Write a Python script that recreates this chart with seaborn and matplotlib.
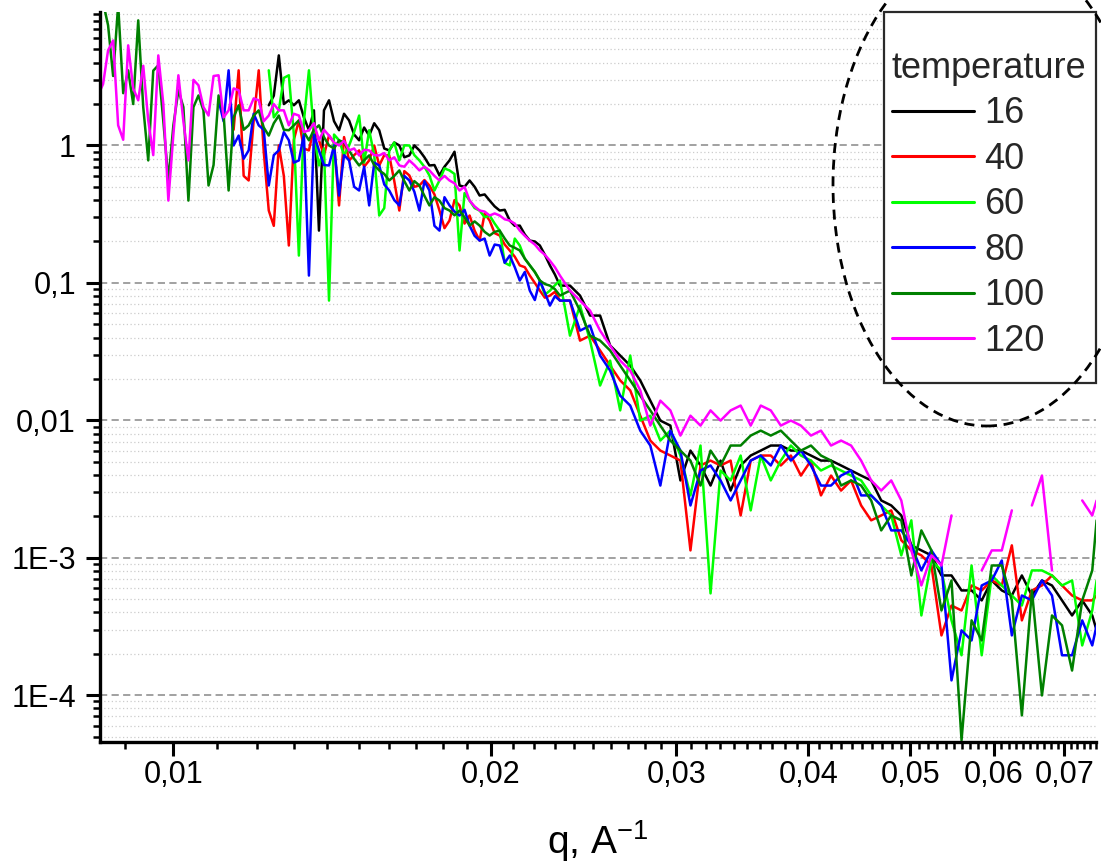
import numpy as np
import pandas as pd
import matplotlib
matplotlib.use("Agg")
import matplotlib.pyplot as plt
import seaborn as sns
from matplotlib.patches import Ellipse, Rectangle
from matplotlib.ticker import (FixedLocator, FixedFormatter, MultipleLocator,
                               LogLocator, NullFormatter)

na = float("nan")

# ---------------- data ----------------
# main q grid
q = [0.008483, 0.008671, 0.008864, 0.009060, 0.009261, 0.009466, 0.009676, 0.009891, 0.010110, 0.010334,
     0.010563, 0.010798, 0.011037, 0.011282, 0.011532, 0.011787, 0.012049, 0.012316, 0.012589, 0.012868,
     0.013153, 0.013445, 0.013743, 0.014048, 0.014359, 0.014678, 0.015003, 0.015336, 0.015676, 0.016023,
     0.016379, 0.016742, 0.017113, 0.017492, 0.017880, 0.018276, 0.018681, 0.019096, 0.019519, 0.019951,
     0.020394, 0.020846, 0.021308, 0.021780, 0.022263, 0.022757, 0.023261, 0.023777, 0.024304, 0.024843,
     0.025393, 0.025956, 0.026532, 0.027120, 0.027721, 0.028336, 0.028964, 0.029606, 0.030262, 0.030933,
     0.031619, 0.032320, 0.033036, 0.033769, 0.034517, 0.035282, 0.036065, 0.036864, 0.037681, 0.038517,
     0.039370, 0.040243, 0.041135, 0.042047, 0.042979, 0.043932, 0.044906, 0.045901, 0.046919, 0.047959,
     0.049022, 0.050109, 0.051220, 0.052355, 0.053516, 0.054702, 0.055915, 0.057154, 0.058434, 0.059729,
     0.061053, 0.062407, 0.063790, 0.065204, 0.066650, 0.068127, 0.069637, 0.071181, 0.072776, 0.074389,
     0.07510]

# extra (denser) q points in the noisy low-q part
q_mid = [0.008577, 0.008767, 0.008962, 0.009160, 0.009363, 0.009570, 0.009783, 0.010000, 0.010221, 0.010448,
         0.010679, 0.010917, 0.011159, 0.011406, 0.011659, 0.011917, 0.012182, 0.012452, 0.012728, 0.013010,
         0.013298, 0.013593, 0.013894, 0.014203, 0.014517, 0.014840, 0.015168, 0.015505, 0.015849, 0.016200,
         0.016559, 0.016926, 0.017302, 0.017685, 0.018077, 0.018477, 0.018887, 0.019306, 0.019734, 0.020171,
         0.020619, 0.021076, 0.021543, 0.022020, 0.022508, 0.023007]

i16 = [na] * 17 + [
    1.96, 4.52, 2.13, 2.13, 1.29, 0.240, 2.13, 1.29, 1.52, 1.09,
    1.18, 1.29, 0.920, 1.00, 0.846, 0.920, 0.715, 0.605, 0.778, 0.511,
    0.556, 0.432, 0.397, 0.336, 0.284, 0.261, 0.203, 0.187, 0.134, 0.0955,
    0.0955, 0.0808, 0.0578, 0.0578, 0.0350, 0.0296, 0.0250, 0.0195, 0.0139, 0.00995,
    0.00915, 0.00365, 0.00602, 0.00469, 0.00335, 0.00509, 0.00308, 0.00469, 0.00554, 0.00602,
    0.00655, 0.00655, 0.00602, 0.00602, 0.00554, 0.00509, 0.00509, 0.00469, 0.00431, 0.00396,
    0.00365, 0.00261, 0.00240, 0.00203, 0.00123, 0.00113, 0.00104, 0.000743, 0.000743, 0.000578,
    0.000578, 0.000489, 0.000683, 0.000578, 0.000531, 0.000743, 0.000531, 0.000683, 0.000628, 0.000489,
    0.000380, 0.000489, 0.000380, 0.000296]
i16_mid = [na] * 17 + [
    2.3, 2.0, 1.96, 1.6, 1.8, 1.8, 1.5, 1.7, 1.2, 1.35,
    1.45, 0.95, 1.05, 0.82, 1.0, 0.82, 0.72, 0.70, 0.90, 0.50,
    0.50, 0.44, 0.36, 0.34, 0.26, 0.225, 0.20, 0.16, 0.115]

i40 = [na] * 14 + [
    3.52, 0.556, 3.52, 0.336, 1.00, 0.187, 1.52, 0.920, 1.09, 1.18,
    0.366, 0.778, 0.920, 0.778, 0.715, 0.846, 0.336, 0.605, 0.511, 0.511,
    0.336, 0.284, 0.366, 0.309, 0.203, 0.284, 0.221, 0.172, 0.134, 0.113,
    0.0878, 0.0808, 0.0743, 0.0743, 0.0380, 0.0413, 0.0322, 0.0250, 0.0195, 0.0165,
    0.0108, 0.00712, 0.00602, 0.00554, 0.00509, 0.00113, 0.00469, 0.00509, 0.00469, 0.00509,
    0.00203, 0.00509, 0.00554, 0.00554, 0.00469, 0.00554, 0.00396, 0.00509, 0.00284, 0.00396,
    0.00308, 0.00365, 0.00240, 0.00187, 0.00203, 0.00221, 0.00134, 0.00113, 0.00104, 0.000878,
    0.000272, 0.000449, 0.000413, 0.000628, 0.000578, 0.000683, 0.000628, 0.00123, 0.000350, 0.000578,
    0.000628, 0.000743, 0.000628, 0.000531, 0.000489, 0.000489, 0.000531]
i40_mid = [na] * 13 + [
    1.3, 0.60, 1.52, 0.9, 0.26, 0.6, 1.1, 0.95, 1.35, 0.85,
    1.05, 1.15, 0.85, 0.70, 1.0, 0.85, 0.55, 0.65, 0.50, 0.56,
    0.44, 0.25, 0.40, 0.27, 0.24, 0.32, 0.23, 0.19, 0.155, 0.13,
    0.10, 0.078, 0.086]

i60 = [na] * 17 + [
    3.52, 1.80, 3.24, 0.158, 3.52, 0.715, 0.0743, 1.09, 1.00, 1.65,
    1.29, 0.309, 0.920, 0.778, 1.00, 0.778, 0.605, 0.556, 0.658, 0.172,
    0.397, 0.336, 0.309, 0.240, 0.134, 0.187, 0.134, 0.104, 0.0878, 0.104,
    0.0413, 0.0683, 0.0380, 0.0179, 0.0272, 0.0118, 0.0296, 0.00995, 0.0108, 0.00712,
    0.00841, 0.00554, 0.00284, 0.00655, 0.00055, 0.00431, 0.00365, 0.00554, 0.00221, 0.00554,
    0.00365, 0.00509, 0.00655, 0.00554, 0.00509, 0.00431, 0.00469, 0.00431, 0.00396, 0.00365,
    0.00284, 0.00240, 0.00203, 0.00104, 0.00187, 0.000380, 0.000955, 0.000808, 0.000350, 0.000195,
    0.000878, 0.000195, 0.000743, 0.000628, 0.000531, 0.000449, 0.000808, 0.000808, 0.000743, 0.000628,
    0.000683, 0.000230, 0.000413, 0.000683]
i60_mid = [na] * 17 + [
    1.6, 3.1, 1.2, 1.5, 1.2, 0.95, 1.2, 0.85, 1.25, 0.75,
    0.85, 0.35, 1.05, 1.0, 0.85, 0.70, 0.47, 0.68, 0.62, 0.45,
    0.35, 0.30, 0.27, 0.14, 0.21, 0.15, 0.12, 0.082, 0.096]

i80 = [na] * 12 + [
    2.13, 3.52, 1.18, 0.920, 1.40, 0.511, 0.920, 1.09, 0.778, 0.113,
    0.920, 0.715, 0.432, 0.778, 0.470, 0.366, 0.715, 0.470, 0.366, 0.556,
    0.336, 0.470, 0.240, 0.366, 0.309, 0.261, 0.203, 0.158, 0.187, 0.158,
    0.104, 0.0878, 0.104, 0.0683, 0.0743, 0.0743, 0.0449, 0.0489, 0.0296, 0.0230,
    0.0151, 0.0128, 0.00841, 0.00655, 0.00335, 0.00841, 0.00602, 0.00240, 0.00431, 0.00469,
    0.00365, 0.00261, 0.00365, 0.00509, 0.00554, 0.00469, 0.00655, 0.00509, 0.00602, 0.00469,
    0.00335, 0.00335, 0.00396, 0.00431, 0.00284, 0.00284, 0.00240, 0.00158, 0.00158, 0.00123,
    0.000808, 0.00113, 0.000878, 0.000128, 0.000296, 0.000250, 0.000628, 0.000683, 0.000955, 0.000272,
    0.000531, 0.000489, 0.000683, 0.000531, 0.000195, 0.000195, 0.000350, 0.000230, 0.000322]
i80_mid = [na] * 12 + [
    1.5, 1.0, 0.80, 1.7, 1.3, 0.85, 1.25, 0.75, 1.2, 1.2,
    0.72, 1.0, 0.85, 0.50, 0.70, 0.75, 0.52, 0.40, 0.60, 0.46,
    0.55, 0.26, 0.42, 0.33, 0.34, 0.22, 0.21, 0.19, 0.14, 0.13,
    0.12, 0.075, 0.085, 0.080]

i100 = [na] + [
    7.48, 10.5, 3.52, 8.13, 0.778, 3.83, 0.556, 2.52, 0.397, 2.31,
    0.511, 2.31, 0.470, 1.96, 1.40, 1.80, 1.18, 1.65, 1.29, 1.52,
    1.09, 1.40, 1.00, 1.09, 0.920, 0.715, 0.846, 0.658, 0.556, 0.658,
    0.470, 0.511, 0.366, 0.397, 0.336, 0.336, 0.261, 0.261, 0.221, 0.240,
    0.187, 0.172, 0.134, 0.104, 0.0955, 0.0808, 0.0878, 0.0628, 0.0413, 0.0380,
    0.0322, 0.0250, 0.0195, 0.0151, 0.0118, 0.00915, 0.00712, 0.00602, 0.00509, 0.00335,
    0.00602, 0.00469, 0.00655, 0.00655, 0.00774, 0.00841, 0.00774, 0.00841, 0.00712, 0.00602,
    0.00655, 0.00554, 0.00509, 0.00335, 0.00365, 0.00335, 0.00261, 0.00158, 0.00203, 0.00187,
    0.000743, 0.00158, 0.00113, 0.000413, 0.000683, 0.0000469, 0.000350, 0.000250, 0.000878, 0.000878,
    0.000489, 0.0000712, 0.000578, 0.0000995, 0.000380, 0.000322, 0.000151, 0.000489, 0.000808, 0.00187]
i100_mid = [
    11.0, 3.2, 2.4, 2.0, 1.9, 3.5, 1.5, 1.4, 1.9, 1.9,
    1.8, 0.72, 1.7, 1.6, 1.3, 1.65, 1.35, 1.45, 1.3, 1.4,
    1.25, 1.3, 1.15, 0.95, 1.05, 0.80, 0.78, 0.72, 0.62, 0.60,
    0.55, 0.55, 0.43, 0.42, 0.35, 0.31, 0.30, 0.28, 0.235, 0.235,
    0.21, 0.18, 0.15, 0.12, 0.098, 0.090]

i120 = [
    2.31, 4.92, 1.40, 5.35, 2.13, 1.52, 4.52, 0.397, 3.24, 0.778,
    2.74, 1.65, 3.24, 1.80, 2.52, 1.80, 2.13, 1.65, 1.80, 1.40,
    1.65, 1.29, 1.09, 1.18, 1.00, 0.920, 0.846, 0.920, 0.846, 0.778,
    0.715, 0.778, 0.658, 0.658, 0.556, 0.556, 0.470, 0.397, 0.336, 0.309,
    0.309, 0.284, 0.240, 0.203, 0.172, 0.145, 0.113, 0.0878, 0.0743, 0.0628,
    0.0449, 0.0350, 0.0272, 0.0230, 0.0165, 0.00915, 0.0139, 0.0118, 0.00774, 0.0108,
    0.00915, 0.0118, 0.00995, 0.0118, 0.0128, 0.00915, 0.0128, 0.0118, 0.00915, 0.00995,
    0.00915, 0.00774, 0.00841, 0.00655, 0.00712, 0.00655, 0.00509, 0.00365, 0.00308, 0.00365,
    0.00261, 0.00113, 0.000628, 0.00104, 0.000878, 0.00203, na, na, 0.000808, 0.00113,
    0.00113, 0.00221, na, 0.00240, 0.00396, 0.000808, na, na, 0.00261, 0.00203,
    0.00261]
i120_mid = [
    2.8, 5.8, 1.1, 2.6, 3.8, 0.85, 2.0, 1.2, 1.5, 3.0,
    1.9, 3.2, 1.6, 2.6, 1.8, 2.2, 1.5, 2.0, 1.8, 1.7,
    1.25, 1.45, 1.3, 1.05, 1.08, 0.95, 0.93, 0.85, 0.88, 0.82,
    0.70, 0.72, 0.70, 0.60, 0.60, 0.53, 0.50, 0.36, 0.33, 0.32,
    0.29, 0.27, 0.22, 0.19, 0.16, 0.13]

temperatures = ["16", "40", "60", "80", "100", "120"]
colors = ["#000000", "#ff0000", "#00ff00", "#0000ff", "#008000", "#ff00ff"]
x_ticks = [0.01, 0.02, 0.03, 0.04, 0.05, 0.06, 0.07]
x_ticklabels = ["0,01", "0,02", "0,03", "0,04", "0,05", "0,06", "0,07"]
y_ticks = [1e-4, 1e-3, 1e-2, 1e-1, 1.0]
y_ticklabels = ["1E-4", "1E-3", "0,01", "0,1", "1"]

# ---------------- long-form table ----------------
q_all = np.asarray(q + q_mid, dtype=float)
order = np.argsort(q_all)
series = [(i16, i16_mid), (i40, i40_mid), (i60, i60_mid),
          (i80, i80_mid), (i100, i100_mid), (i120, i120_mid)]
frames = []
for t, (main, mid) in zip(temperatures, series):
    assert len(main) == len(q) and len(mid) == len(q_mid), t
    v = np.asarray(main + mid, dtype=float)[order]
    seg = np.cumsum(np.isnan(v))
    d = pd.DataFrame({"q": q_all[order], "I": v, "temperature": t,
                      "unit": [f"{t}_{s}" for s in seg]})
    frames.append(d.dropna())
df = pd.concat(frames, ignore_index=True)

# ---------------- style ----------------
sns.set_theme(style="ticks")
plt.rcParams["font.family"] = ["Liberation Sans", "DejaVu Sans"]
plt.rcParams["mathtext.default"] = "regular"
plt.rcParams["axes.unicode_minus"] = False

W, H = 1101, 864
fig = plt.figure(figsize=(W / 100, H / 100), dpi=100)
ax = fig.add_axes([99.5 / W, 1 - 742 / H, (1096 - 99.5) / W, (742 - 11.7) / H])
ax.set_xscale("log")
ax.set_yscale("log")

sns.lineplot(data=df, x="q", y="I", hue="temperature", hue_order=temperatures,
             palette=colors, units="unit", estimator=None, sort=False,
             linewidth=1.8, ax=ax)

ax.set_xlim(0.00851, 0.0750)
ax.set_ylim(4.56e-5, 9.4)

ax.xaxis.set_major_locator(FixedLocator(x_ticks))
ax.xaxis.set_major_formatter(FixedFormatter(x_ticklabels))
ax.xaxis.set_minor_locator(MultipleLocator(0.001))
ax.xaxis.set_minor_formatter(NullFormatter())
ax.yaxis.set_major_locator(FixedLocator(y_ticks))
ax.yaxis.set_major_formatter(FixedFormatter(y_ticklabels))
ax.yaxis.set_minor_locator(LogLocator(base=10, subs=np.arange(2, 10), numticks=30))
ax.yaxis.set_minor_formatter(NullFormatter())

ax.tick_params(axis="both", which="major", direction="out", length=10, width=2.2,
               color="black", labelsize=22, labelcolor="black")
ax.tick_params(axis="both", which="minor", direction="out", length=5, width=1.8,
               color="black")
ax.tick_params(axis="x", which="major", pad=3)
ax.tick_params(axis="y", which="major", pad=7)

for s in ["top", "right"]:
    ax.spines[s].set_visible(False)
for s in ["left", "bottom"]:
    ax.spines[s].set_linewidth(2.4)
    ax.spines[s].set_color("black")

ax.grid(False)
ax.yaxis.grid(True, which="major", linestyle=(0, (4, 2.4)), color="#9a9a9a", linewidth=1.3)
ax.yaxis.grid(True, which="minor", linestyle=(0, (1, 2)), color="#cccccc", linewidth=0.9)
ax.set_axisbelow(True)

ax.set_ylabel("")
ax.set_xlabel("q, A$^{-1}$", fontsize=28, color="black")
ax.xaxis.set_label_coords(0.5, -0.104)

# ---------------- legend ----------------
old = ax.get_legend()
handles = list(old.legend_handles)
labels = [t.get_text() for t in old.get_texts()]
old.remove()
for h in handles:
    h.set_linewidth(2.2)

frame = Rectangle((884 / W, 1 - 383 / H), (1096 - 884) / W, (383 - 12) / H,
                  transform=fig.transFigure, facecolor="white",
                  edgecolor="#2a2a2a", linewidth=1.6, zorder=3)
fig.add_artist(frame)

leg = fig.legend(handles, labels, title="temperature", loc="upper left",
                 bbox_to_anchor=(892 / W, 1 - 51 / H), frameon=False,
                 fontsize=26, title_fontsize=26, handlelength=2.27,
                 handletextpad=0.28, labelspacing=0.29, borderpad=0,
                 borderaxespad=0)
leg._legend_box.align = "left"
leg.set_zorder(5)

ell = Ellipse((987 / W, 1 - 185 / H), 308 / W, 482 / H, transform=fig.transFigure,
              fill=False, edgecolor="black", linewidth=2.0,
              linestyle=(0, (3.6, 2.4)), zorder=6)
fig.add_artist(ell)

fig.savefig("out.png", dpi=100)
